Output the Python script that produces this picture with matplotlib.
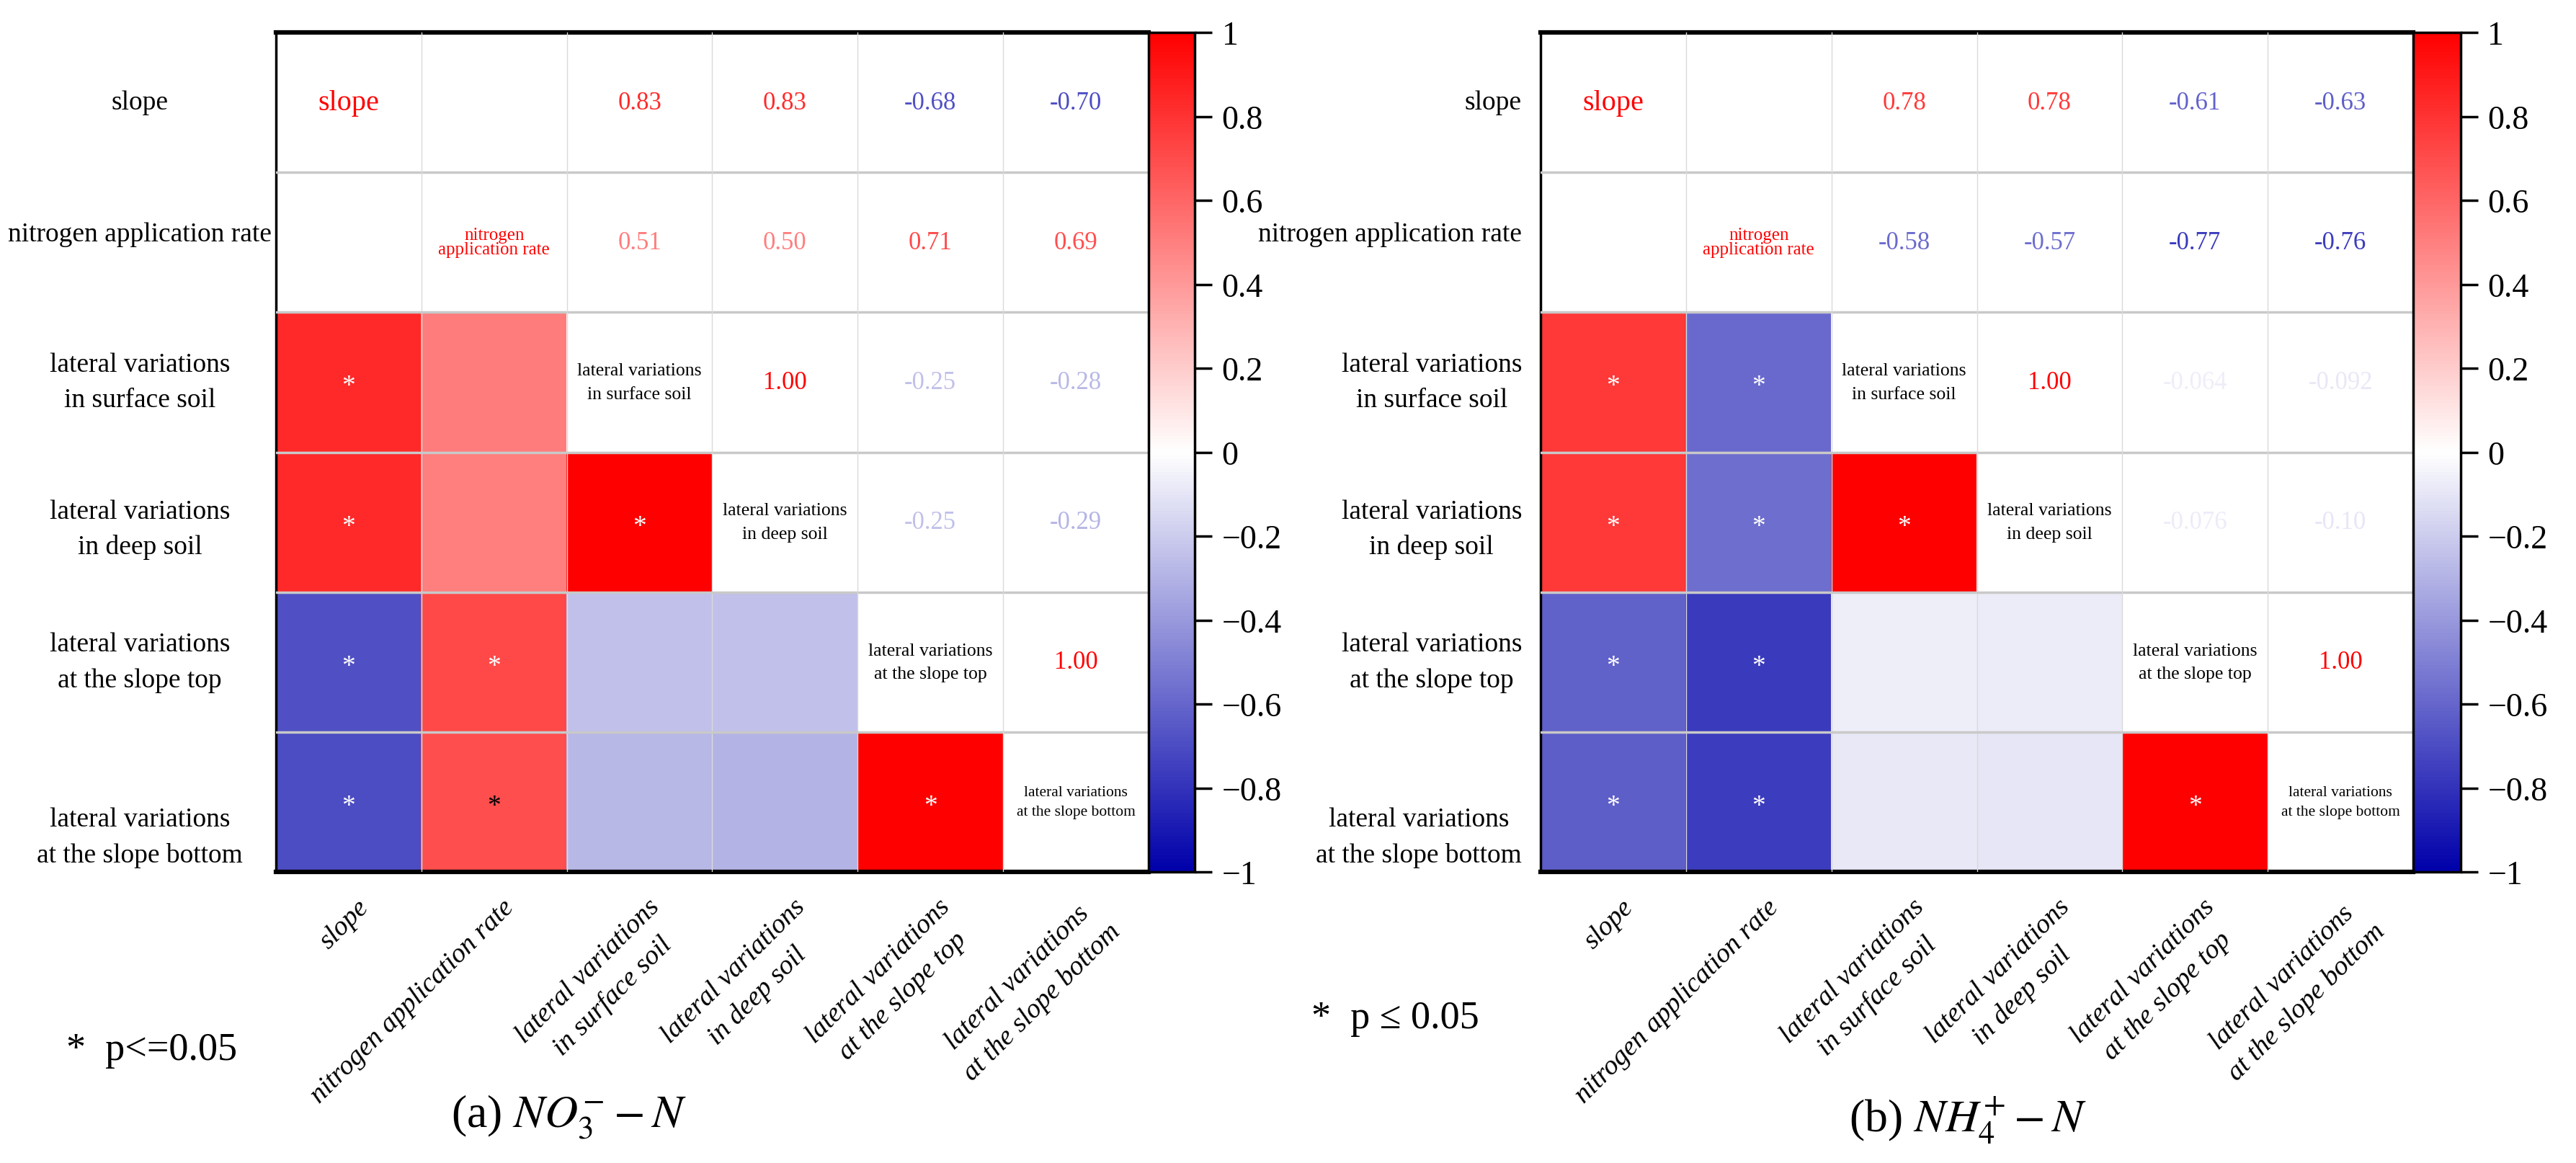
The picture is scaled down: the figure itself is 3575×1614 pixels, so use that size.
import numpy as np
import matplotlib
matplotlib.use("Agg")
import matplotlib.pyplot as plt
import matplotlib.transforms as mtransforms
from matplotlib.colors import LinearSegmentedColormap, Normalize

plt.rcParams['font.family'] = ['Liberation Serif', 'DejaVu Serif']
plt.rcParams['mathtext.fontset'] = 'stix'

nan = np.nan

row_labels = ["slope", "nitrogen application rate",
              "lateral variations\nin surface soil", "lateral variations\nin deep soil",
              "lateral variations\nat the slope top", "lateral variations\nat the slope bottom"]
diag_labels = ["slope", "nitrogen\napplication rate",
               "lateral variations\nin surface soil", "lateral variations\nin deep soil",
               "lateral variations\nat the slope top", "lateral variations\nat the slope bottom"]

# correlation matrices (symmetric), nan = not shown
no3_r = [[1.00, nan, 0.83, 0.83, -0.68, -0.70],
         [nan, 1.00, 0.51, 0.50, 0.71, 0.69],
         [0.83, 0.51, 1.00, 1.00, -0.25, -0.28],
         [0.83, 0.50, 1.00, 1.00, -0.25, -0.29],
         [-0.68, 0.71, -0.25, -0.25, 1.00, 1.00],
         [-0.70, 0.69, -0.28, -0.29, 1.00, 1.00]]
nh4_r = [[1.00, nan, 0.78, 0.78, -0.61, -0.63],
         [nan, 1.00, -0.58, -0.57, -0.77, -0.76],
         [0.78, -0.58, 1.00, 1.00, -0.064, -0.092],
         [0.78, -0.57, 1.00, 1.00, -0.076, -0.10],
         [-0.61, -0.77, -0.064, -0.076, 1.00, 1.00],
         [-0.63, -0.76, -0.092, -0.10, 1.00, 1.00]]

# significant pairs (row, col) in the lower triangle
no3_sig = [(2, 0), (3, 0), (4, 0), (5, 0), (4, 1), (5, 1), (3, 2), (5, 4)]
nh4_sig = [(2, 0), (3, 0), (4, 0), (5, 0), (2, 1), (3, 1), (4, 1), (5, 1), (3, 2), (5, 4)]
no3_black_stars = [(5, 1)]

cbar_ticks = [1, 0.8, 0.6, 0.4, 0.2, 0, -0.2, -0.4, -0.6, -0.8, -1]
cbar_ticklabels = ["1", "0.8", "0.6", "0.4", "0.2", "0",
                   "\u22120.2", "\u22120.4", "\u22120.6", "\u22120.8", "\u22121"]

cmap = LinearSegmentedColormap.from_list("rwb", ["#0000AA", "#ffffff", "#ff0000"])
cmap.set_bad("white")
norm = Normalize(-1, 1)

W, H = 3575, 1615
fig = plt.figure(figsize=(W / 100, H / 100), dpi=100)


def fmt(v):
    if abs(v) < 0.095:
        return f"{v:.2g}"
    return f"{v:.2f}"


def draw_panel(x0, width, cx0, cwidth, r, sig, black_stars, label_x, label_ha):
    r = np.array(r, dtype=float)
    n = r.shape[0]
    ax = fig.add_axes([x0 / W, 1 - 1211 / H, width / W, 1165 / H])
    cax = fig.add_axes([cx0 / W, 1 - 1211 / H, cwidth / W, 1165 / H])

    lower = np.where(np.tril(np.ones((n, n), bool), k=-1), r, nan)
    im = ax.imshow(np.ma.masked_invalid(lower), cmap=cmap, norm=norm, aspect='auto',
                   interpolation='nearest')
    ax.set_xlim(-0.5, n - 0.5)
    ax.set_ylim(n - 0.5, -0.5)

    for k in range(1, n):
        ax.axhline(k - 0.5, color='#c9c9c9', lw=2.5, zorder=3)
        ax.axvline(k - 0.5, color='#dadada', lw=1, zorder=3)

    for i in range(n):
        for j in range(n):
            v = r[i, j]
            if j > i and not np.isnan(v):
                ax.text(j, i, fmt(v), color=cmap(norm(v)), ha='center', va='center',
                        fontsize=25, zorder=4)
    for (i, j) in sig:
        c = 'black' if (i, j) in black_stars else 'white'
        ax.text(j, i + 0.03, "*", color=c, ha='center', va='center', fontsize=27, zorder=4)

    # diagonal labels
    ax.text(0, 0, diag_labels[0], color='red', ha='center', va='center', fontsize=29)
    ax.text(1, 1, diag_labels[1], color='red', ha='center', va='center', fontsize=18,
            linespacing=0.9, multialignment='center')
    for k in range(2, n - 1):
        ax.text(k, k, diag_labels[k], color='black', ha='center', va='center',
                fontsize=18.5, linespacing=1.6, multialignment='center')
    ax.text(n - 1, n - 1, diag_labels[-1], color='black', ha='center', va='center',
            fontsize=15.5, linespacing=1.6, multialignment='center')

    # row labels
    dy = [0, -0.06, 0, 0.05, 0, 0.25]
    tr = mtransforms.blended_transform_factory(fig.transFigure, ax.transData)
    for k, lab in enumerate(row_labels):
        ax.text(label_x / W, k + dy[k], lab, transform=tr, ha=label_ha, va='center',
                fontsize=27, linespacing=1.55, multialignment='center')

    # column labels
    for k, lab in enumerate(row_labels):
        ax.text(k + 0.05, n - 0.5 + 0.16, lab, ha='right', va='top', rotation=45,
                rotation_mode='anchor', fontsize=27.5, style='italic', linespacing=1.5,
                multialignment='center', clip_on=False)

    ax.set_xticks([])
    ax.set_yticks([])
    ax.spines['right'].set_visible(False)
    ax.spines['top'].set_linewidth(4.5)
    ax.spines['bottom'].set_linewidth(4.5)
    ax.spines['left'].set_linewidth(2.5)

    cb = fig.colorbar(im, cax=cax)
    cb.set_ticks(cbar_ticks)
    cb.set_ticklabels(cbar_ticklabels)
    cb.outline.set_linewidth(2.5)
    cax.tick_params(length=17, width=2.5, labelsize=33, pad=10)
    return ax


draw_panel(383, 1211, 1594, 64, no3_r, no3_sig, no3_black_stars, 194, 'center')
draw_panel(2138, 1211, 3349, 66, nh4_r, nh4_sig, [], 2112, 'right')

fig.text(92 / W, 1 - 1458 / H, "*  p<=0.05", fontsize=39, ha='left', va='center')
fig.text(1820 / W, 1 - 1414 / H, "*  p \u2264 0.05", fontsize=39, ha='left', va='center')
fig.text(789 / W, 1 - 1551 / H, "(a) $NO_3^{-}-N$", fontsize=46, ha='center', va='center')
fig.text(2731 / W, 1 - 1555 / H, "(b) $NH_4^{+}-N$", fontsize=46, ha='center', va='center')

fig.savefig("out.png", dpi=100)
